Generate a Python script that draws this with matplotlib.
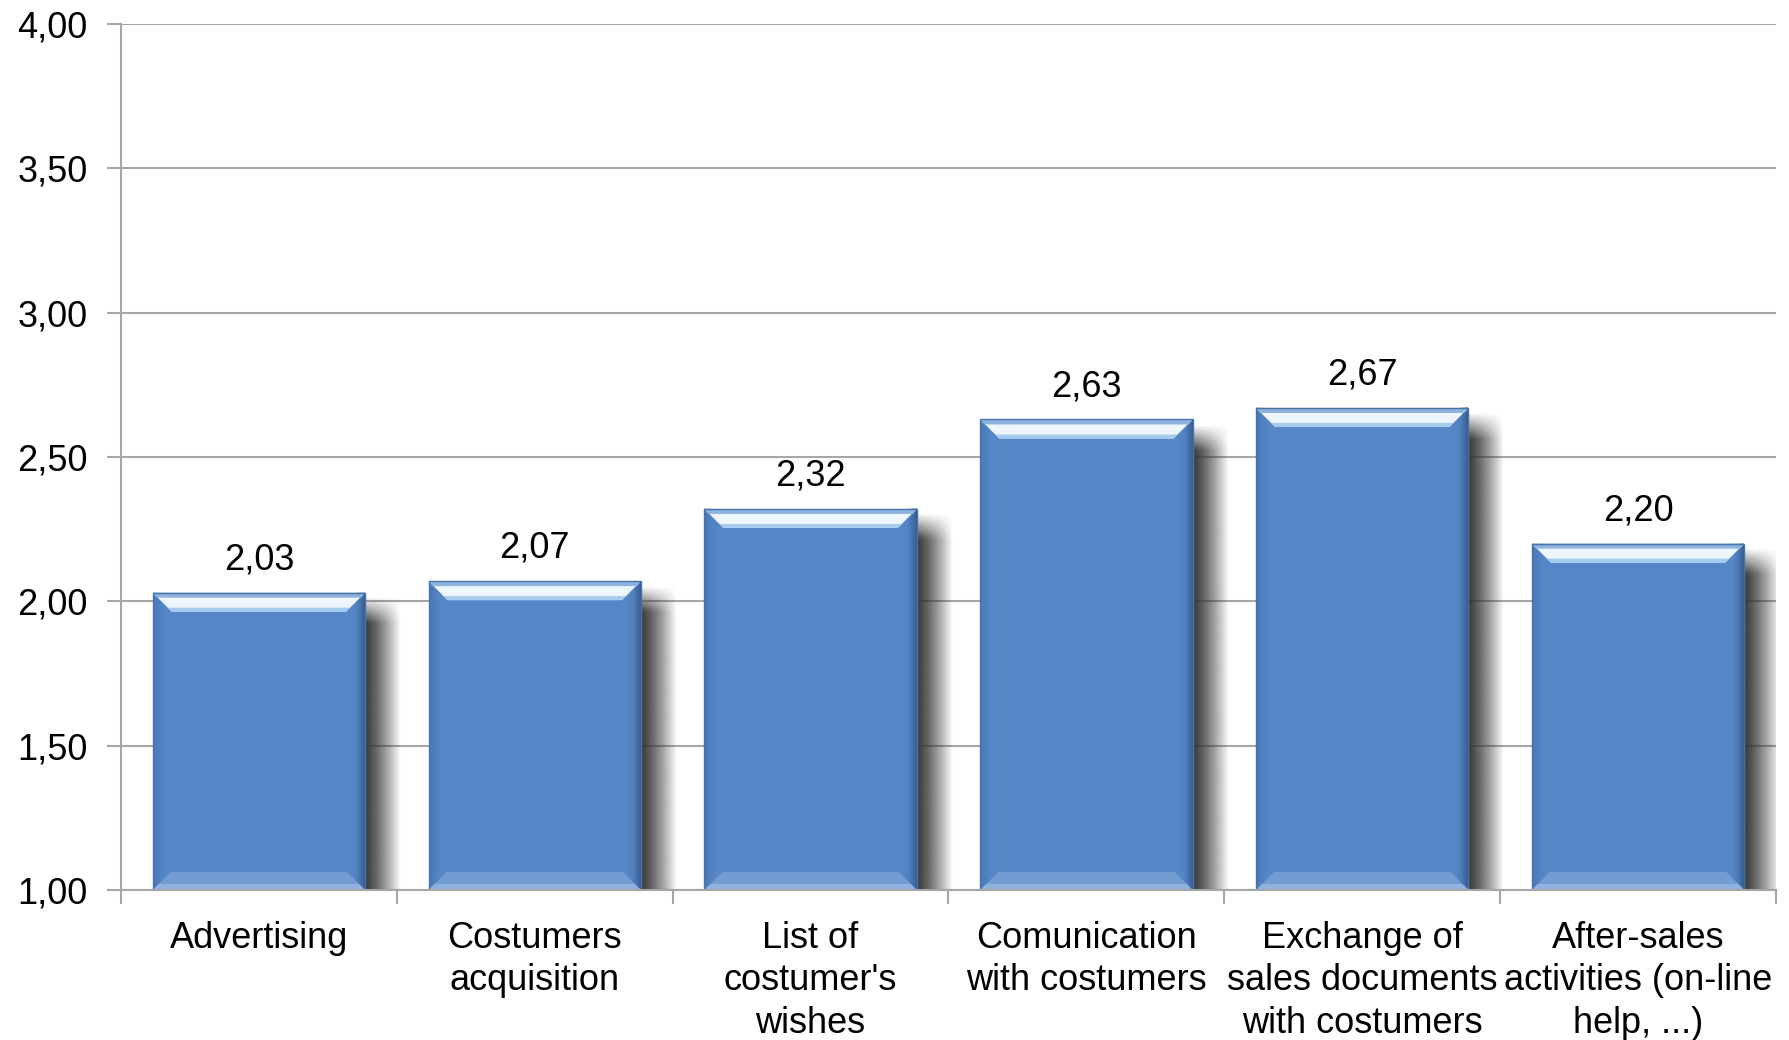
import matplotlib
matplotlib.use("Agg")
import matplotlib.pyplot as plt
from matplotlib.patches import Polygon, Rectangle
import numpy as np

categories = ["Advertising", "Costumers\nacquisition", "List of\ncostumer's\nwishes",
              "Comunication\nwith costumers", "Exchange of\nsales documents\nwith costumers",
              "After-sales\nactivities (on-line\nhelp, ...)"]
values = [2.03, 2.07, 2.32, 2.63, 2.67, 2.20]
yticks = [1.00, 1.50, 2.00, 2.50, 3.00, 3.50, 4.00]
ytick_labels = ["1,00", "1,50", "2,00", "2,50", "3,00", "3,50", "4,00"]

plt.rcParams['font.family'] = ['Liberation Sans', 'DejaVu Sans']

W, H, DPI = 1789, 1040, 100
fig = plt.figure(figsize=(W / DPI, H / DPI), dpi=DPI)
L, R, B, T = 121 / W, 1776 / W, (H - 890) / H, (H - 24) / H
ax = fig.add_axes([L, B, R - L, T - B])

n = len(values)
x = np.arange(n)

axw_px = (R - L) * W
axh_px = (T - B) * H
px_x = n / axw_px          # data units per pixel in x
px_y = 3.0 / axh_px        # data units per pixel in y

bw = 0.77
base = 1.0
main_color = "#5587c7"

ax.set_axisbelow(True)
ax.yaxis.grid(True, color="#a6a6a6", linewidth=1.5, zorder=0)

def hgrad(x0, x1, y0, y1, rgb, a_left, a_right, power=1.0, z=4, fade_top=0):
    nx, ny = 64, 128
    t = np.linspace(0, 1, nx)
    a = a_left + (a_right - a_left) * t ** power
    img = np.zeros((ny, nx, 4))
    img[..., :3] = rgb
    img[..., 3] = a[None, :]
    if fade_top > 0:
        yy = np.linspace(1, 0, ny)  # top row first
        hgt = (y1 - y0)
        f = np.clip((1 - yy) * hgt / fade_top, 0, 1)
        img[..., 3] *= f[:, None]
    ax.imshow(img, extent=(x0, x1, y0, y1), aspect="auto", interpolation="bilinear",
              zorder=z, origin="upper")

for i, v in enumerate(values):
    x0 = x[i] - bw / 2
    x1 = x[i] + bw / 2
    # shadow to the right
    sw = 36
    hgrad(x1, x1 + sw * px_x, base, v - 4 * px_y, (0.2, 0.2, 0.2), 0.95, 0.0, power=1.3, z=2,
          fade_top=26 * px_y)
    # main bar
    ax.bar(x[i], v - base, bottom=base, width=bw, color=main_color, edgecolor="none", zorder=3)
    # side bevels
    hgrad(x1 - 12 * px_x, x1, base, v, (0.13, 0.25, 0.42), 0.0, 0.6, power=1.5, z=4)
    hgrad(x0, x0 + 12 * px_x, base, v, (0.17, 0.3, 0.5), 0.3, 0.0, power=0.7, z=4)
    # top bevel (light)
    th = 19
    ax.add_patch(Polygon([[x0, v], [x1, v], [x1 - th * px_x, v - th * px_y], [x0 + th * px_x, v - th * px_y]],
                         closed=True, facecolor="#eef6fd", edgecolor="none", zorder=5))
    ax.add_patch(Polygon([[x0, v], [x1, v], [x1 - 4 * px_x, v - 5 * px_y], [x0 + 4 * px_x, v - 5 * px_y]],
                         closed=True, facecolor="#8db3de", edgecolor="none", zorder=6))
    ax.add_patch(Polygon([[x0 + (th - 4) * px_x, v - (th - 4) * px_y], [x1 - (th - 4) * px_x, v - (th - 4) * px_y],
                          [x1 - th * px_x, v - th * px_y], [x0 + th * px_x, v - th * px_y]],
                         closed=True, facecolor="#a5cbef", edgecolor="none", zorder=6))
    # bottom bevel
    bh = 18
    ax.add_patch(Polygon([[x0, base], [x1, base], [x1 - bh * px_x, base + bh * px_y], [x0 + bh * px_x, base + bh * px_y]],
                         closed=True, facecolor="#739dd2", edgecolor="none", zorder=5))
    ax.add_patch(Polygon([[x0, base], [x1, base], [x1 - 6 * px_x, base + 6 * px_y], [x0 + 6 * px_x, base + 6 * px_y]],
                         closed=True, facecolor="#8fb2df", edgecolor="none", zorder=6))
    # outline
    ax.add_patch(Rectangle((x0, base), bw, v - base, facecolor="none", edgecolor="#4a72a8",
                           linewidth=1.0, zorder=7))
    ax.annotate(f"{v:.2f}".replace(".", ","), (x[i], v), xytext=(0, 11), textcoords="offset points",
                ha="center", va="bottom", fontsize=26, color="black", zorder=8)

ax.set_xlim(-0.5, n - 0.5)
ax.set_ylim(1.0, 4.0)
ax.set_yticks(yticks)
ax.set_yticklabels(ytick_labels, fontsize=26)
ax.set_xticks(x)
ax.set_xticklabels(categories, fontsize=26, linespacing=1.28, va="top")
ax.set_xticks(np.arange(-0.5, n, 1.0), minor=True)
ax.tick_params(axis="x", which="major", length=0, pad=22)
ax.tick_params(axis="x", which="minor", length=10, width=1.5, color="#a6a6a6")
ax.tick_params(axis="y", length=10, width=1.5, color="#a6a6a6", pad=14)

for s in ["top", "right"]:
    ax.spines[s].set_visible(False)
for s in ["left", "bottom"]:
    ax.spines[s].set_color("#a6a6a6")
    ax.spines[s].set_linewidth(1.5)
    ax.spines[s].set_zorder(8)

fig.savefig("out.png", dpi=DPI)
